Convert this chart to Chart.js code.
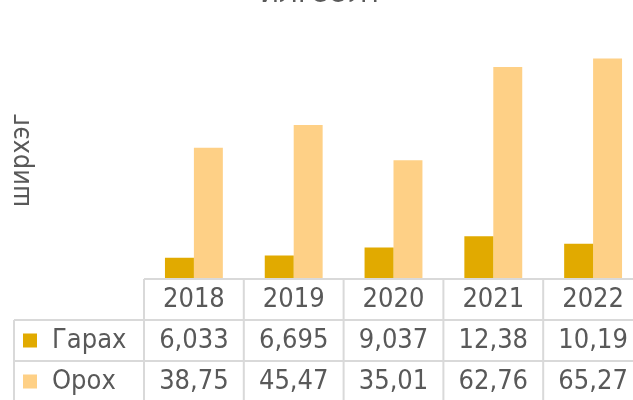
<!DOCTYPE html>
<html>
<head>
<meta charset="utf-8">
<title>ИЛГЭЭЛТ</title>
<script src="https://cdn.jsdelivr.net/npm/chart.js@4"></script>
<style>
  html, body { margin: 0; padding: 0; background: #fff; overflow: hidden; }
  canvas { display: block; }
</style>
</head>
<body>
<canvas id="chart" width="650" height="400"></canvas>
<script>
const years = ['2018', '2019', '2020', '2021', '2022'];
const garakh = [6.033, 6.695, 9.037, 12.38, 10.19];
const orokh = [38.75, 45.47, 35.01, 62.76, 65.27];
const seriesNames = ['Гарах', 'Орох'];
const seriesColors = ['#E1AA00', '#FED086'];

const FONT = '"DejaVu Sans Condensed", "DejaVu Sans", sans-serif';
const TEXT = '#595959';
const GRID = '#d9d9d9';

// numbers in the table use a decimal comma
function fmt(v) {
    return String(v).replace('.', ',');
}

// data table under the plot, columns follow the x scale
const dataTable = {
    id: 'dataTable',
    afterDraw(chart) {
        const ctx = chart.ctx;
        const x = chart.scales.x;
        const step = x.width / years.length;
        const rowH = 41;
        const top = chart.chartArea.bottom + 1;
        const left = 14;
        const rows = [garakh, orokh];

        ctx.save();
        ctx.strokeStyle = GRID;
        ctx.lineWidth = 2;
        ctx.beginPath();
        ctx.moveTo(x.left, top);
        ctx.lineTo(x.right, top);
        for (let r = 1; r <= 3; r++) {
            ctx.moveTo(left, top + r * rowH);
            ctx.lineTo(x.right, top + r * rowH);
        }
        for (let i = 0; i <= years.length; i++) {
            const px = x.left + i * step;
            ctx.moveTo(px, top);
            ctx.lineTo(px, top + 3 * rowH);
        }
        ctx.moveTo(left, top + rowH);
        ctx.lineTo(left, top + 3 * rowH);
        ctx.stroke();

        ctx.fillStyle = TEXT;
        ctx.font = '27px ' + FONT;
        ctx.textBaseline = 'middle';
        ctx.textAlign = 'center';
        years.forEach((y, i) => {
            ctx.fillText(y, x.getPixelForValue(i), top + rowH / 2);
        });
        rows.forEach((vals, r) => {
            const cy = top + (r + 1) * rowH + rowH / 2;
            ctx.textAlign = 'center';
            ctx.fillStyle = TEXT;
            vals.forEach((v, i) => {
                ctx.fillText(fmt(v), x.getPixelForValue(i), cy);
            });
            // legend key + name
            ctx.fillStyle = seriesColors[r];
            ctx.fillRect(23, cy - 7, 14, 14);
            ctx.fillStyle = TEXT;
            ctx.textAlign = 'left';
            ctx.fillText(seriesNames[r], 52, cy);
        });
        ctx.restore();
    }
};

new Chart(document.getElementById('chart'), {
    type: 'bar',
    data: {
        labels: years,
        datasets: [{
            label: seriesNames[0],
            data: garakh,
            backgroundColor: seriesColors[0],
            categoryPercentage: 0.58,
            barPercentage: 1
        }, {
            label: seriesNames[1],
            data: orokh,
            backgroundColor: seriesColors[1],
            categoryPercentage: 0.58,
            barPercentage: 1
        }]
    },
    options: {
        responsive: false,
        animation: false,
        layout: { padding: { right: 7, bottom: 122 } },
        plugins: {
            legend: { display: false },
            tooltip: { enabled: false },
            title: {
                display: true,
                text: 'ИЛГЭЭЛТ',
                color: TEXT,
                font: { family: FONT, size: 28, weight: 'normal' },
                padding: { top: -22, bottom: 31 }
            }
        },
        scales: {
            x: { display: false },
            y: {
                min: 0,
                max: 70,
                ticks: { display: false },
                grid: { display: false },
                border: { display: false },
                title: {
                    display: true,
                    text: 'ширхэг',
                    color: TEXT,
                    font: { family: FONT, size: 27 },
                    padding: { top: 6, bottom: 0 }
                },
                afterFit(scale) { scale.width = 144; }
            }
        }
    },
    plugins: [dataTable]
});
</script>
</body>
</html>
